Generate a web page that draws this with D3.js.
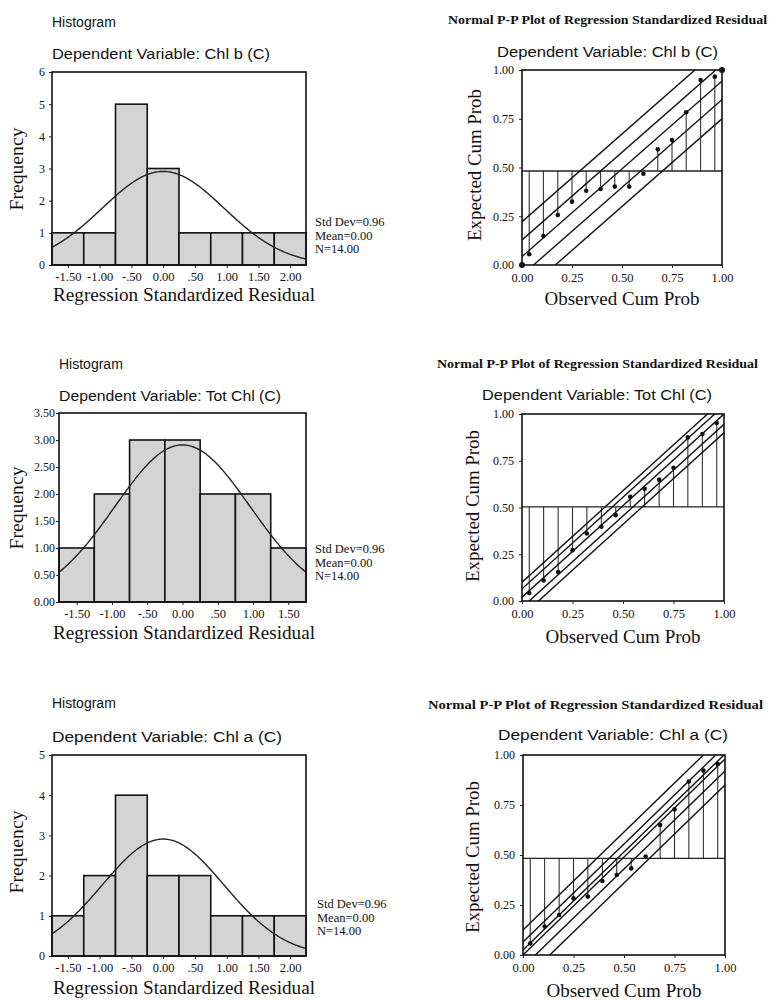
<!DOCTYPE html>
<html><head><meta charset="utf-8">
<script src="https://cdn.jsdelivr.net/npm/d3@7"></script>
<style>body{margin:0;background:#fff}svg{display:block}</style>
</head><body>
<svg id="chart" width="769" height="1000"></svg>
<script>
// ---------------- data ----------------
const binCentersChlb = [-1.5, -1, -0.5, 0, 0.5, 1, 1.5, 2];
const countsChlb     = [1, 1, 5, 3, 1, 1, 1, 1];
const binCentersTot  = [-1.5, -1, -0.5, 0, 0.5, 1, 1.5];
const countsTot      = [1, 2, 3, 3, 2, 2, 1];
const binCentersChla = [-1.5, -1, -0.5, 0, 0.5, 1, 1.5, 2];
const countsChla     = [1, 2, 4, 2, 2, 1, 1, 1];

const xTickLabelsLong = ["-1.50", "-1.00", "-.50", "0.00", ".50", "1.00", "1.50", "2.00"];
const xTickLabelsTot  = ["-1.50", "-1.00", "-.50", "0.00", ".50", "1.00", "1.50"];
const yTicksChlb      = [0, 1, 2, 3, 4, 5, 6];
const yTickLabelsChlb = ["0", "1", "2", "3", "4", "5", "6"];
const yTicksTot       = [0, 0.5, 1, 1.5, 2, 2.5, 3, 3.5];
const yTickLabelsTot  = ["0.00", "0.50", "1.00", "1.50", "2.00", "2.50", "3.00", "3.50"];
const yTicksChla      = [0, 1, 2, 3, 4, 5];
const yTickLabelsChla = ["0", "1", "2", "3", "4", "5"];

const residualStdDev = 0.96, residualMean = 0.0, residualN = 14, binWidth = 0.5;
const statLines = ["Std Dev=0.96", "Mean=0.00", "N=14.00"];

const ppObserved     = [0.036, 0.107, 0.179, 0.25, 0.321, 0.393, 0.464, 0.536, 0.607, 0.679, 0.75, 0.821, 0.893, 0.964];
const ppExpectedChlb = [0.055, 0.149, 0.256, 0.325, 0.381, 0.39, 0.402, 0.402, 0.468, 0.593, 0.641, 0.783, 0.949, 0.966];
const ppExpectedTot  = [0.043, 0.11, 0.155, 0.272, 0.361, 0.397, 0.459, 0.557, 0.6, 0.649, 0.712, 0.875, 0.893, 0.952];
const ppExpectedChla = [0.058, 0.142, 0.2, 0.283, 0.292, 0.37, 0.4, 0.433, 0.492, 0.65, 0.728, 0.867, 0.922, 0.955];
const ppRefChlb = 0.482, ppRefTot = 0.503, ppRefChla = 0.483;
const bandSlopeChlb = 0.9,  bandInterceptsChlb = [0.222, 0.128, 0.043, -0.052, -0.15];
const bandSlopeTot  = 0.98, bandInterceptsTot  = [0.10, 0.065, 0.02, -0.035, -0.08];
const bandSlopeChla = 0.98, bandInterceptsChla = [0.125, 0.065, 0.025, 0.0, -0.06, -0.13];
const ppTicks = [0, 0.25, 0.5, 0.75, 1];
const ppTickLabels = ["0.00", "0.25", "0.50", "0.75", "1.00"];

// ---------------- drawing ----------------
const svg = d3.select("#chart");
const SERIF = "'Liberation Serif','Times New Roman',serif";
const SANS = "'Liberation Sans',Arial,sans-serif";
let clipCount = 0;

function makeClip(l, t, r, b) {
  const id = "clip" + (clipCount++);
  svg.append("clipPath").attr("id", id).append("rect")
    .attr("x", l).attr("y", t).attr("width", r - l).attr("height", b - t);
  return `url(#${id})`;
}

function styleAxis(sel, fs) {
  sel.select(".domain").remove();
  sel.attr("font-family", SERIF).attr("font-size", fs);
  sel.selectAll("line").attr("stroke", "#222");
  sel.selectAll("text").attr("fill", "#111");
}

function drawHist(c) {
  const g = svg.append("g");
  const x = d3.scaleLinear().domain(c.xDomain).range([c.left, c.right]);
  const y = d3.scaleLinear().domain([0, c.yMax]).range([c.bottom, c.top]);
  const clip = makeClip(c.left, c.top, c.right, c.bottom);

  g.append("text").attr("x", c.left).attr("y", c.histY).text("Histogram")
    .attr("font-family", SANS).attr("font-size", 14).attr("fill", "#111");
  g.append("text").attr("x", c.left).attr("y", c.dvY).text(c.dvText)
    .attr("font-family", SANS).attr("font-size", 15.5).attr("fill", "#111")
    .attr("textLength", c.dvLen).attr("lengthAdjust", "spacingAndGlyphs");

  g.selectAll("rect.bar").data(c.centers).join("rect").attr("class", "bar")
    .attr("x", d => x(d - binWidth / 2))
    .attr("width", d => x(d + binWidth / 2) - x(d - binWidth / 2))
    .attr("y", (d, i) => y(c.counts[i]))
    .attr("height", (d, i) => y(0) - y(c.counts[i]))
    .attr("fill", "#d4d4d4").attr("stroke", "#111").attr("stroke-width", 1.6);

  const peak = residualN * binWidth / (residualStdDev * Math.sqrt(2 * Math.PI));
  const xs = d3.range(0, 201).map(i => c.xDomain[0] + (c.xDomain[1] - c.xDomain[0]) * i / 200);
  g.append("path").datum(xs)
    .attr("d", d3.line().x(d => x(d))
      .y(d => y(peak * Math.exp(-0.5 * ((d - residualMean) / residualStdDev) ** 2))))
    .attr("fill", "none").attr("stroke", "#222").attr("stroke-width", 1.4)
    .attr("clip-path", clip);

  g.append("rect").attr("x", c.left).attr("y", c.top)
    .attr("width", c.right - c.left).attr("height", c.bottom - c.top)
    .attr("fill", "none").attr("stroke", "#111").attr("stroke-width", 1.6);

  g.append("g").attr("transform", `translate(${c.left},0)`)
    .call(d3.axisLeft(y).tickValues(c.yTicks).tickFormat((d, i) => c.yTickLabels[i])
      .tickSize(3).tickPadding(c.yPad))
    .call(s => styleAxis(s, 12));
  g.append("g").attr("transform", `translate(0,${c.bottom})`)
    .call(d3.axisBottom(x).tickValues(c.centers).tickFormat((d, i) => c.xTickLabels[i])
      .tickSize(3).tickPadding(4))
    .call(s => styleAxis(s, 12.5));

  g.append("text").attr("transform", `translate(${c.freqX},${c.freqY}) rotate(-90)`)
    .attr("text-anchor", "middle").text("Frequency")
    .attr("font-family", SERIF).attr("font-size", 18).attr("fill", "#111")
    .attr("textLength", 83).attr("lengthAdjust", "spacingAndGlyphs");
  g.append("text").attr("x", c.xTitleX).attr("y", c.xTitleY).text("Regression Standardized Residual")
    .attr("font-family", SERIF).attr("font-size", 18).attr("fill", "#111")
    .attr("textLength", 262).attr("lengthAdjust", "spacingAndGlyphs");

  g.selectAll("text.stat").data(statLines).join("text").attr("class", "stat")
    .attr("x", c.statX).attr("y", (d, i) => c.statY + i * 13.5).text(d => d)
    .attr("font-family", SERIF).attr("font-size", 12.5).attr("fill", "#111");
}

function drawPP(c) {
  const g = svg.append("g");
  const x = d3.scaleLinear().domain([0, 1]).range([c.left, c.right]);
  const y = d3.scaleLinear().domain([0, 1]).range([c.bottom, c.top]);
  const clip = makeClip(c.left, c.top, c.right, c.bottom);

  g.append("text").attr("x", c.titleX).attr("y", c.titleY)
    .text("Normal P-P Plot of Regression Standardized Residual")
    .attr("font-family", SERIF).attr("font-size", 13.5).attr("font-weight", "bold").attr("fill", "#111")
    .attr("textLength", c.titleLen).attr("lengthAdjust", "spacingAndGlyphs");
  g.append("text").attr("x", c.dvX).attr("y", c.dvY).text(c.dvText)
    .attr("font-family", SANS).attr("font-size", 15.5).attr("fill", "#111")
    .attr("textLength", c.dvLen).attr("lengthAdjust", "spacingAndGlyphs");

  // drop lines to reference line
  g.selectAll("line.drop").data(ppObserved).join("line").attr("class", "drop")
    .attr("x1", d => x(d)).attr("x2", d => x(d))
    .attr("y1", (d, i) => y(c.expected[i])).attr("y2", y(c.ref))
    .attr("stroke", "#333").attr("stroke-width", 1.1);
  g.append("line").attr("x1", x(0)).attr("x2", x(1)).attr("y1", y(c.ref)).attr("y2", y(c.ref))
    .attr("stroke", "#222").attr("stroke-width", 1.3);

  // band lines
  g.selectAll("line.band").data(c.intercepts).join("line").attr("class", "band")
    .attr("x1", x(-0.5)).attr("y1", d => y(d + c.slope * -0.5))
    .attr("x2", x(1.5)).attr("y2", d => y(d + c.slope * 1.5))
    .attr("stroke", "#111").attr("stroke-width", 1.4).attr("clip-path", clip);

  g.selectAll("circle.pt").data(ppObserved).join("circle").attr("class", "pt")
    .attr("cx", d => x(d)).attr("cy", (d, i) => y(c.expected[i])).attr("r", 2.3)
    .attr("fill", "#111");
  if (c.corners) {
    g.selectAll("circle.cn").data([0, 1]).join("circle").attr("class", "cn")
      .attr("cx", d => x(d)).attr("cy", d => y(d)).attr("r", 3).attr("fill", "#111");
  }

  g.append("rect").attr("x", c.left).attr("y", c.top)
    .attr("width", c.right - c.left).attr("height", c.bottom - c.top)
    .attr("fill", "none").attr("stroke", "#111").attr("stroke-width", 1.6);

  g.append("g").attr("transform", `translate(${c.left},0)`)
    .call(d3.axisLeft(y).tickValues(ppTicks).tickFormat((d, i) => ppTickLabels[i])
      .tickSize(3).tickPadding(5))
    .call(s => styleAxis(s, 12));
  g.append("g").attr("transform", `translate(0,${c.bottom})`)
    .call(d3.axisBottom(x).tickValues(ppTicks).tickFormat((d, i) => ppTickLabels[i])
      .tickSize(3).tickPadding(5))
    .call(s => styleAxis(s, 12.5));

  g.append("text").attr("x", (c.left + c.right) / 2).attr("y", c.obsY)
    .attr("text-anchor", "middle").text("Observed Cum Prob")
    .attr("font-family", SERIF).attr("font-size", 18).attr("fill", "#111")
    .attr("textLength", 155).attr("lengthAdjust", "spacingAndGlyphs");
  g.append("text").attr("transform", `translate(${c.expX},${c.expY}) rotate(-90)`)
    .attr("text-anchor", "middle").text("Expected Cum Prob")
    .attr("font-family", SERIF).attr("font-size", 18).attr("fill", "#111")
    .attr("textLength", 152).attr("lengthAdjust", "spacingAndGlyphs");
}

// Row 1: Chl b
drawHist({
  left: 52, right: 306, top: 72, bottom: 265, xDomain: [-1.75, 2.25], yMax: 6,
  centers: binCentersChlb, counts: countsChlb, xTickLabels: xTickLabelsLong,
  yTicks: yTicksChlb, yTickLabels: yTickLabelsChlb, yPad: 4,
  histY: 27, dvY: 59, dvText: "Dependent Variable: Chl b (C)", dvLen: 218,
  freqX: 23, freqY: 169, xTitleX: 53, xTitleY: 301, statX: 315, statY: 226
});
drawPP({
  left: 522, right: 722, top: 70, bottom: 265, expected: ppExpectedChlb, ref: ppRefChlb,
  slope: bandSlopeChlb, intercepts: bandInterceptsChlb, corners: true,
  titleX: 448, titleY: 24, titleLen: 319, dvX: 497, dvY: 57, dvLen: 221,
  dvText: "Dependent Variable: Chl b (C)", obsY: 305, expX: 481, expY: 165
});

// Row 2: Tot Chl
drawHist({
  left: 59, right: 306, top: 413, bottom: 602, xDomain: [-1.75, 1.75], yMax: 3.5,
  centers: binCentersTot, counts: countsTot, xTickLabels: xTickLabelsTot,
  yTicks: yTicksTot, yTickLabels: yTickLabelsTot, yPad: 1,
  histY: 369, dvY: 401, dvText: "Dependent Variable: Tot Chl (C)", dvLen: 222,
  freqX: 23, freqY: 508, xTitleX: 53, xTitleY: 639, statX: 315, statY: 553
});
drawPP({
  left: 522, right: 724, top: 414, bottom: 601, expected: ppExpectedTot, ref: ppRefTot,
  slope: bandSlopeTot, intercepts: bandInterceptsTot, corners: false,
  titleX: 437, titleY: 368, titleLen: 321, dvX: 482, dvY: 400, dvLen: 230,
  dvText: "Dependent Variable: Tot Chl (C)", obsY: 643, expX: 479, expY: 506
});

// Row 3: Chl a
drawHist({
  left: 52, right: 306, top: 755, bottom: 956, xDomain: [-1.75, 2.25], yMax: 5,
  centers: binCentersChla, counts: countsChla, xTickLabels: xTickLabelsLong,
  yTicks: yTicksChla, yTickLabels: yTickLabelsChla, yPad: 4,
  histY: 708, dvY: 742, dvText: "Dependent Variable: Chl a (C)", dvLen: 230,
  freqX: 23, freqY: 852, xTitleX: 53, xTitleY: 994, statX: 317, statY: 908
});
drawPP({
  left: 523, right: 725, top: 755, bottom: 955, expected: ppExpectedChla, ref: ppRefChla,
  slope: bandSlopeChla, intercepts: bandInterceptsChla, corners: false,
  titleX: 428, titleY: 709, titleLen: 335, dvX: 498, dvY: 740, dvLen: 230,
  dvText: "Dependent Variable: Chl a (C)", obsY: 997, expX: 479, expY: 857
});
</script>
</body></html>
